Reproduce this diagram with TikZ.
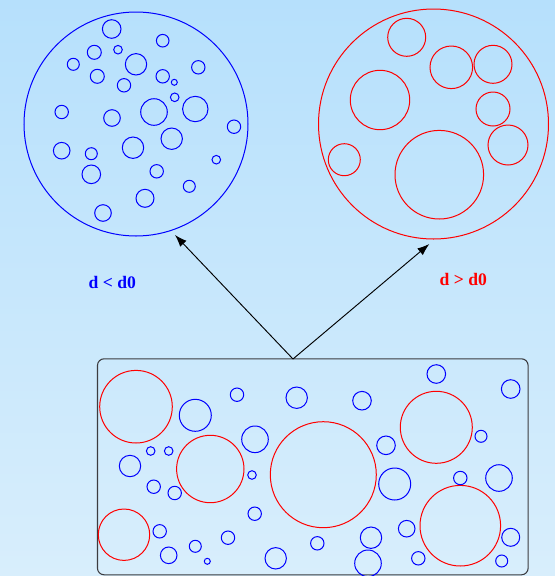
\documentclass[tikz,border=0pt]{standalone}
\usepackage{fontspec}
\setmainfont{Liberation Serif}
\usetikzlibrary{arrows.meta}
\definecolor{skytop}{RGB}{182,224,252}
\definecolor{skybot}{RGB}{216,238,252}
\definecolor{frame}{RGB}{60,60,64}
\begin{document}
\begin{tikzpicture}[x=0.75pt,y=-0.75pt,
  bc/.style={draw=blue,line width=0.75pt},
  rc/.style={draw=red,line width=0.75pt},
  link/.style={draw=black,line width=0.7pt,-{Latex[length=9pt,width=6.5pt]}},
  lbl/.style={font=\fontsize{13.2}{15}\selectfont\bfseries}]
\useasboundingbox (0,0) rectangle (555,576);
\shade[top color=skytop,bottom color=skybot] (0,0) rectangle (555,576);

% the two clusters
\node[bc,circle,minimum size=168pt,inner sep=0pt] (small) at (136,124) {};
\node[rc,circle,minimum size=172.5pt,inner sep=0pt] (large) at (433.5,124) {};

% small particles (blue cluster)
\foreach \x/\y/\r in {111.7/29/9.3, 162.7/40.7/6.3, 94.3/52.3/7, 118/49.7/4.3,
  73.3/64.3/6, 136/64.3/10.7, 198.3/67.3/6.7, 97.3/76.3/7, 124/85.3/6.7,
  162.7/76.3/6.7, 174.3/82.3/3, 174.7/97.3/4.3, 154/112/13.3, 195.3/109/12.7,
  61.7/112/6.7, 112/118/8.3, 234/126.7/6.7, 171.7/138.7/10.7, 61.7/150.7/8.3,
  91.3/153.7/6, 133/147.7/10.7, 216.3/159.7/4.3, 91.3/174.3/9.3,
  156.7/171.3/6.7, 189.3/186.3/6, 145/198.3/9, 103/213/8.3}
  \draw[bc] (\x,\y) circle[radius=\r];

% large particles (red cluster)
\foreach \x/\y/\r in {406.7/37.3/19, 451.3/67.3/21.3, 493/64.3/19, 380/100/29.7,
  493/109/17, 508/145/20, 344.3/159.7/16, 439.3/174.7/44.3}
  \draw[rc] (\x,\y) circle[radius=\r];

% mixed sample
\node[draw=frame,line width=0.8pt,rounded corners=5pt,minimum width=323pt,
  minimum height=162pt,inner sep=0pt] (mix) at (312.8,466.8) {};
\foreach \x/\y/\r in {136/406.7/36.3, 210.3/469/33.7, 124/534.7/25.7,
  323.3/474.7/53, 436.3/427.3/36, 460.3/525.7/40.3}
  \draw[rc] (\x,\y) circle[radius=\r];
\foreach \x/\y/\r in {237/394.7/6.7, 296.7/397.7/10.7, 195.3/415.3/16,
  255/439.3/13.3, 150.7/451/4.3, 168.7/451/4.3, 130/466/10.7, 252/475/4.3,
  153.7/486.7/6.7, 174.7/493/6.7, 254.7/513.7/6.7, 159.7/531.3/6.7,
  168.7/555.3/8.3, 195.3/546.3/6, 207.3/561.3/3, 228/537.7/6.7,
  275.7/558.3/10.7, 436.3/374/9.3, 510.7/389/9.3, 362/400.7/9.3,
  481/436.3/6, 386/445.3/9.3, 394.7/484/16, 460.3/478/6.7, 499/478/13.3,
  406.7/528.7/8.3, 371/537.7/10.7, 317.3/543.3/6.7, 368/563.3/13.3,
  418.3/558.3/6.7, 510.7/537.3/9, 501.7/561/6}
  \draw[bc] (\x,\y) circle[radius=\r];

% separation arrows
\coordinate (split) at (293,359);
\coordinate (tipS) at (175,235);
\coordinate (tipL) at (429.3,244);
\draw[link] (split) -- (tipS);
\draw[link] (split) -- (tipL);

\node[lbl,text=blue] (ls) at (112.3,282.5) {d < d0};
\node[lbl,text=red] (ll) at (463.3,279.5) {d > d0};
\end{tikzpicture}
\end{document}
